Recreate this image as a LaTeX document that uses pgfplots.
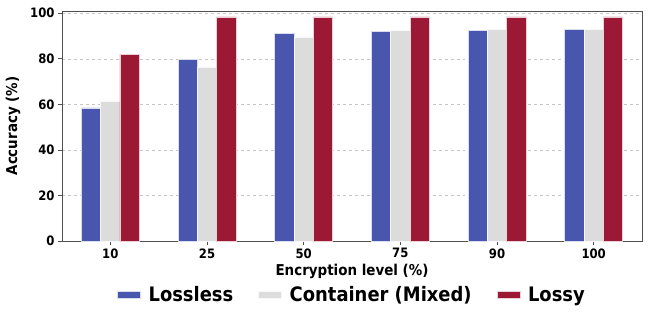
\documentclass[border=0pt]{standalone}
\usepackage{pgfplots}
\pgfplotsset{compat=1.18}
\usepackage{fontspec}
\setmainfont{DejaVu Sans}
\newfontfamily\cond{DejaVu Sans Condensed Bold}
\definecolor{cblue}{RGB}{72,87,173}
\definecolor{cgray}{RGB}{220,220,220}
\definecolor{cred}{RGB}{155,25,52}
\definecolor{axgray}{RGB}{80,80,80}
\begin{document}
\begin{tikzpicture}
\begin{axis}[
  scale only axis,
  width=580bp, height=230bp,
  xmin=-0.5, xmax=5.5, ymin=0, ymax=101,
  xtick={0,1,2,3,4,5},
  xticklabels={10,25,50,75,90,100},
  ytick={0,20,40,60,80,100},
  /pgf/number format/assume math mode=true,
  ticklabel style={font=\cond\fontsize{13}{13}\selectfont},
  xlabel={Encryption level (\%)},
  ylabel={Accuracy (\%)},
  label style={font=\cond\fontsize{15}{15}\selectfont},
  xlabel style={yshift=1bp},
  ylabel style={yshift=3bp},
  tick align=outside,
  tick pos=left,
  major tick length=4bp,
  tick style={axgray, line width=0.8pt},
  axis line style={axgray, line width=0.9pt},
  ymajorgrids,
  grid style={dashed, gray!45, line width=0.6pt},
  ybar, bar width=0.2,
  legend style={at={(0.5,-0.18)}, anchor=north, draw=none, fill=none,
    legend columns=3, font=\cond\fontsize{20}{20}\selectfont,
    /tikz/every odd column/.append style={column sep=6bp},
    /tikz/every even column/.append style={column sep=23bp}},
  legend image code/.code={\fill[#1] (0bp,-3.4bp) rectangle (23bp,3.4bp);},
]
\addplot[fill=cblue, draw=white!80!cblue, line width=0.4pt, bar shift=-0.2]
  coordinates {(0,58.5) (1,79.8) (2,91.3) (3,92.1) (4,92.5) (5,93.0)};
\addlegendentry{Lossless}
\addplot[fill=cgray, draw=white!80!cgray, line width=0.4pt, bar shift=0]
  coordinates {(0,61.5) (1,76.5) (2,89.6) (3,92.4) (4,92.8) (5,93.0)};
\addlegendentry{Container (Mixed)}
\addplot[fill=cred, draw=white!80!cred, line width=0.4pt, bar shift=0.2]
  coordinates {(0,82.0) (1,98.4) (2,98.4) (3,98.4) (4,98.4) (5,98.4)};
\addlegendentry{Lossy}
\end{axis}
\pgfresetboundingbox
\path ([shift={(-62bp,-77bp)}]current axis.south west) rectangle ([shift={(8bp,11bp)}]current axis.north east);
\end{tikzpicture}
\end{document}
